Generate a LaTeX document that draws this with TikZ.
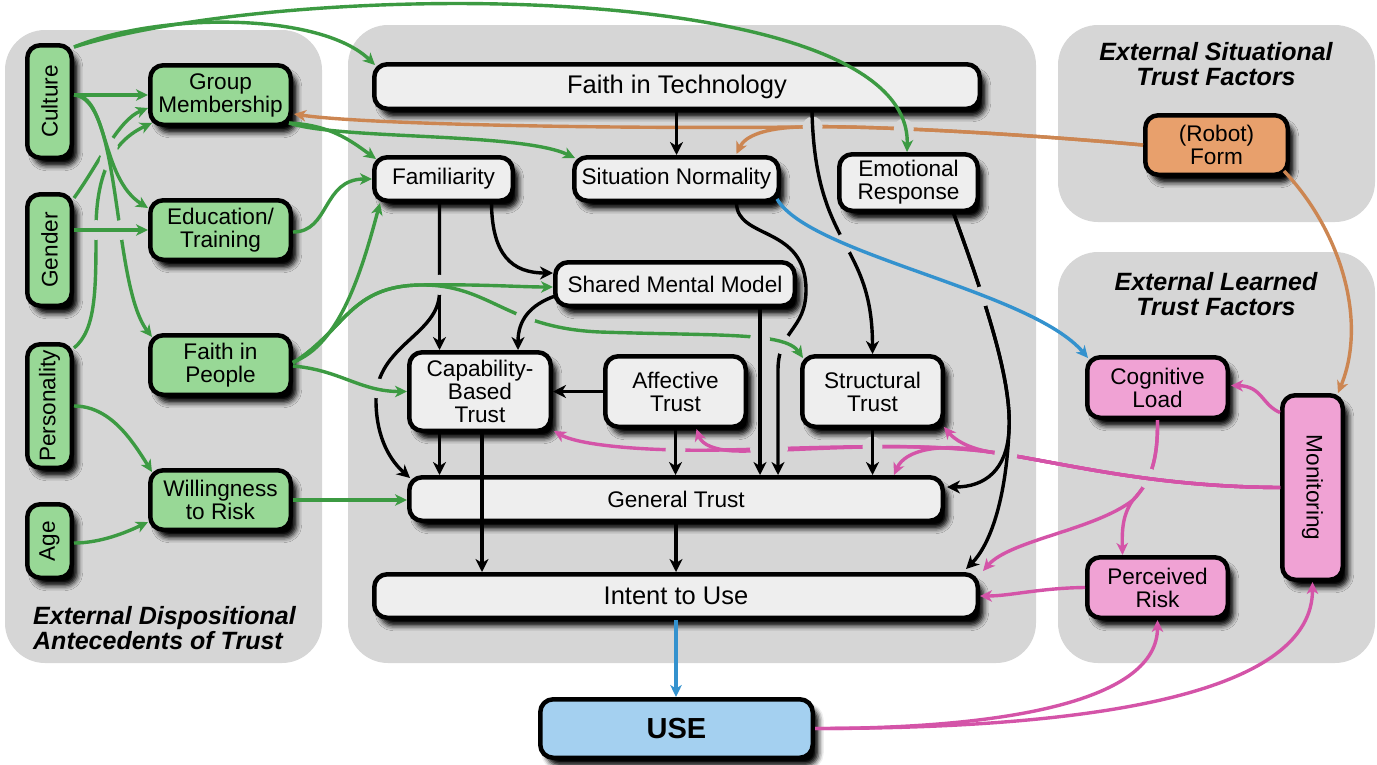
\documentclass[tikz,border=0pt]{standalone}
\usepackage{fontspec}
\setmainfont{Liberation Sans}
\usepackage{graphicx}
\usetikzlibrary{arrows.meta,calc,intersections,shadows.blur}

\definecolor{panelc}{RGB}{214,214,214}
\definecolor{nodeg}{RGB}{238,238,238}
\definecolor{gfill}{RGB}{152,216,150}
\definecolor{gline}{RGB}{60,154,66}
\definecolor{ofill}{RGB}{232,160,108}
\definecolor{oline}{RGB}{204,134,82}
\definecolor{pfill}{RGB}{240,162,212}
\definecolor{pline}{RGB}{212,84,168}
\definecolor{bfill}{RGB}{164,208,240}
\definecolor{bline}{RGB}{52,146,206}

\newcommand\mkgap[3][10]{%
  \path[name intersections={of=#2 and #3,total=\gapn}] \pgfextra{\xdef\gapN{\gapn}};%
  \ifnum\gapN>0 \foreach\gk in {1,...,\gapN}{\fill[panelc] (intersection-\gk) circle (#1pt);}\fi}

% ---------- connector paths ----------
\def\pCulFiT{($(cul.north east)+(0,4)$) .. controls (160,12) and (320,12) .. ($(fit.north west)+(3,3)$)}
\def\pCulER{($(cul.north east)+(0,4)$) .. controls (300,-22) and (912,-22) .. ($(er.north)+(-1.5,0)$)}
\def\pCulGM{($(cul.east)+(0,-6.5)$) -- (gm.west)}
\def\pCulEdu{($(cul.east)+(0,-6.5)$) .. controls (108,95) and (100,178) .. ($(edu.north west)+(0,10)$)}
\def\pCulFiP{($(cul.east)+(0,-6.5)$) .. controls (122,98) and (112,285) .. ($(fip.north west)+(4,4)$)}
\def\pGenGM{($(gen.north east)+(0,6)$) .. controls (98,165) and (118,120) .. ($(gm.west)+(0,13)$)}
\def\pPersGM{($(pers.north east)+(0,6)$) .. controls (96,330) and (96,290) .. (96,230) .. controls (96,170) and (115,140) .. ($(gm.south west)+(4,-4)$)}
\def\pGenEdu{($(gen.east)+(0,-20)$) -- (edu.west)}
\def\pPersWtR{(pers.east) .. controls (110,406) and (132,440) .. ($(wtr.north west)+(4,4)$)}
\def\pAgeWtR{($(age.east)+(0,2)$) .. controls (100,543) and (125,533) .. ($(wtr.west)+(0,22)$)}
\def\pGMFam{($(gm.south east)+(-4,-4)$) .. controls (330,125) and (350,140) .. ($(fam.north west)+(4,4)$)}
\def\pGMSN{($(gm.south east)+(-4,-4)$) .. controls (340,140) and (520,132) .. ($(sn.north west)+(3,3)$)}
\def\pEduFam{($(edu.east)+(0,2)$) .. controls (330,232) and (322,179) .. (fam.west)}
\def\pFiPFam{($(fip.east)+(0,-3)$) .. controls (340,345) and (362,270) .. ($(fam.south west)+(8,0)$)}
\def\pFiPSMM{($(fip.east)+(0,-2)$) .. controls (345,330) and (350,286) .. (420,285) .. controls (480,284) and (520,287) .. ($(smm.west)+(0,3)$)}
\def\pFiPST{($(fip.east)+(0,-2)$) .. controls (345,330) and (350,286) .. (420,285) .. controls (490,284) and (505,328) .. (600,332) .. controls (720,336) and (785,332) .. ($(st.north west)+(3,4)$)}
\def\pFiPCBT{($(fip.east)+(0,1)$) .. controls (340,370) and (360,391.5) .. (cbt.west)}
\def\pWtRGT{(wtr.east) -- (wtr.east -| gt.west)}
\def\pFiTSN{(fit.south -| sn.north) -- (sn.north)}
\def\pFiTST{($(fit.south)+(135,0)$) .. controls (815,250) and (872.5,240) .. (st.north)}
\def\pFamCBT{(famx) -- (famx |- cbt.north)}
\def\pFamGT{(famx) -- (439.5,292) .. controls (439.5,335) and (376,345) .. (376,400) .. controls (376,440) and (392,462) .. ($(gt.north west)+(3,3)$)}
\def\pFamSMM{($(fam.south)+(48,0)$) .. controls (492,255) and (512,273) .. ($(smm.west)+(0,-11)$)}
\def\pSMMCBT{($(smm.west)+(2,12)$) .. controls (530,305) and (518,320) .. ($(cbt.north)+(38,0)$)}
\def\pSMMGT{(smmx) -- (smmx |- gt.north)}
\def\pSNGT{(snx) .. controls (737,240) and (806,225) .. (806,290) .. controls (806,330) and (778,330) .. (778,370) -- (gtx)}
\def\pAffGT{(aff.south) -- (aff.south |- gt.north)}
\def\pSTGT{(st.south) -- (st.south |- gt.north)}
\def\pCBTGT{(famx |- cbt.south) -- (famx |- gt.north)}
\def\pCBTIU{(cbx) -- (cbx |- iu.north)}
\def\pAffCBT{(aff.west) -- (cbt.east)}
\def\pGTIU{(gt.south) -- (gt.south |- iu.north)}
\def\pERGT{(erx) .. controls (985,300) and (1012,380) .. (1009,430) .. controls (1007,470) and (985,487) .. ($(gt.east)+(2,-12)$)}
\def\pERIU{(erx) .. controls (985,300) and (1012,380) .. (1009,430) .. controls (1006,500) and (990,545) .. ($(iu.north east)+(-14,-3)$)}
\def\pSNCL{($(sn.south east)+(-4,-4)$) .. controls (810,255) and (1030,290) .. ($(cl.north west)+(3,3)$)}
\def\pIUUSE{(iu.south) -- (iu.south |- use.north)}
\def\pFormGM{(form.west) .. controls (1000,132) and (850,125) .. (800,127) .. controls (600,129) and (360,124) .. ($(gm.east)+(1,19)$)}
\def\pFormSN{(form.west) .. controls (1000,132) and (850,125) .. (800,127) .. controls (765,128) and (745,136) .. ($(sn.north)+(60,-1)$)}
\def\pFormMon{($(form.south east)+(-6,-6)$) .. controls (1340,230) and (1368,320) .. ($(mon.north east)+(-7,0)$)}
\def\pMonCL{($(mon.west)+(0,-75)$) .. controls (1262,405) and (1262,386) .. ($(cl.east)+(1,-2)$)}
\def\pMonCBT{(mon.west) .. controls (1150,487) and (1060,462) .. (990,452) .. controls (900,440) and (750,452) .. (680,450) .. controls (620,449) and (575,443) .. ($(cbt.south east)+(1,-2)$)}
\def\pMonAff{(mon.west) .. controls (1150,487) and (1060,462) .. (990,452) .. controls (900,440) and (790,452) .. (735,451) .. controls (715,450) and (702,445) .. ($(aff.south)+(21,0)$)}
\def\pMonST{(mon.west) .. controls (1150,487) and (1060,462) .. (990,452) .. controls (968,448) and (955,440) .. ($(st.south east)+(-1,-2)$)}
\def\pMonGT{(mon.west) .. controls (1150,487) and (1060,462) .. (990,452) .. controls (940,442) and (905,450) .. ($(gt.north)+(218,0)$)}
\def\pCLPR{(cl.south) .. controls (1158,462) and (1150,482) .. (1133,500) .. controls (1122,515) and (1122,532) .. ($(pr.north)+(-35,0)$)}
\def\pCLIU{(cl.south) .. controls (1158,462) and (1150,482) .. (1133,500) .. controls (1095,530) and (1010,540) .. ($(iu.north east)+(3,-1)$)}
\def\pPRIU{(pr.west) .. controls (1040,588) and (1010,596) .. (iu.east)}
\def\pUSEPR{(use.east) .. controls (1010,728.5) and (1157.5,700) .. (pr.south)}
\def\pUSEMon{(use.east) .. controls (1110,728.5) and (1312.5,690) .. (mon.south)}

\begin{document}
\begin{tikzpicture}[x=1pt,y=-1pt,line join=round,
  box/.style={draw=black, line width=4.5pt, rounded corners=13pt, inner sep=0pt, align=center,
    font=\fontsize{22.6}{23}\selectfont,
    blur shadow={shadow xshift=6pt, shadow yshift=-8pt, shadow blur radius=5pt, shadow opacity=100}},
  gbox/.style={box, fill=gfill},
  wbox/.style={box, fill=nodeg},
  obox/.style={box, fill=ofill},
  pbox/.style={box, fill=pfill},
  ubox/.style={box, fill=bfill},
  bigtxt/.style={font=\fontsize{25.5}{26}\selectfont},
  ttl/.style={inner sep=0pt, font=\fontsize{25}{24.5}\selectfont\bfseries\itshape},
  tip/.style={-{Stealth[length=13pt,width=13pt,inset=4pt]}},
  ctip/.style={-{Stealth[length=12pt,width=11.5pt,inset=3.5pt]}},
  kedge/.style={line width=3.4pt, draw=black, tip},
  gedge/.style={line width=3.4pt, draw=gline, ctip},
  oedge/.style={line width=3.4pt, draw=oline, ctip},
  pedge/.style={line width=3.4pt, draw=pline, ctip},
  bedge/.style={line width=3.4pt, draw=bline, ctip}]
\useasboundingbox (0,0) rectangle (1377,764);

% panels
\fill[panelc, rounded corners=40pt] (5,30) rectangle (322,663);
\fill[panelc, rounded corners=40pt] (348,25) rectangle (1036,663);
\fill[panelc, rounded corners=40pt] (1058,25) rectangle (1375,222);
\fill[panelc, rounded corners=40pt] (1058,252) rectangle (1375,663);

% titles
\node[ttl, align=left, anchor=west] (t1) at (33,628) {External Dispositional\\Antecedents of Trust};
\node[ttl, align=center] (t2) at (1216,64) {External Situational\\Trust Factors};
\node[ttl, align=center] (t3) at (1216,294) {External Learned\\Trust Factors};

% nodes
\node[gbox, minimum width=44.5pt, minimum height=112.5pt] (cul) at (49.5,101.5) {\rotatebox{90}{Culture}};
\node[gbox, minimum width=44.5pt, minimum height=111.5pt] (gen) at (49.5,250) {\rotatebox{90}{Gender}};
\node[gbox, minimum width=44.5pt, minimum height=123.5pt] (pers) at (49.5,406) {\rotatebox{90}{Personality}};
\node[gbox, minimum width=44.5pt, minimum height=73.5pt] (age) at (49.5,541) {\rotatebox{90}{Age}};
\node[gbox, minimum width=140.5pt, minimum height=59.5pt] (gm) at (220.5,95) {Group\\Membership};
\node[gbox, minimum width=140.5pt, minimum height=59.5pt] (edu) at (220.5,230) {Education/\\Training};
\node[gbox, minimum width=140.5pt, minimum height=59.5pt] (fip) at (220.5,365) {Faith in\\People};
\node[gbox, minimum width=140.5pt, minimum height=59.5pt] (wtr) at (220.5,500) {Willingness\\to Risk};

\node[wbox, bigtxt, minimum width=605.5pt, minimum height=44.5pt] (fit) at (677,86.5) {Faith in Technology};
\node[wbox, minimum width=138.5pt, minimum height=43.5pt] (fam) at (443.5,179) {Familiarity};
\node[wbox, minimum width=204.5pt, minimum height=43.5pt] (sn) at (676.5,179) {Situation Normality};
\node[wbox, minimum width=138.5pt, minimum height=56.5pt] (er) at (908.5,182.5) {Emotional\\Response};
\node[wbox, minimum width=239.5pt, minimum height=43.5pt] (smm) at (675,284) {Shared Mental Model};
\node[wbox, minimum width=141.5pt, minimum height=78.5pt] (cbt) at (480,391.5) {Capability-\\Based\\Trust};
\node[wbox, minimum width=140.5pt, minimum height=70.5pt] (aff) at (675.5,391.5) {Affective\\Trust};
\node[wbox, minimum width=140.5pt, minimum height=70.5pt] (st) at (872.5,391.5) {Structural\\Trust};
\node[wbox, minimum width=533.5pt, minimum height=43.5pt] (gt) at (676,499) {General Trust};
\node[wbox, bigtxt, minimum width=603.5pt, minimum height=43.5pt] (iu) at (676,596) {Intent to Use};
\node[ubox, font=\fontsize{29}{30}\selectfont\bfseries, minimum width=272.5pt, minimum height=58.5pt] (use) at (676.5,728.5) {USE};

\node[obox, minimum width=142.5pt, minimum height=59.5pt] (form) at (1216.5,145) {(Robot)\\Form};
\node[pbox, minimum width=140.5pt, minimum height=60.5pt] (cl) at (1157.5,387.5) {Cognitive\\Load};
\node[pbox, minimum width=140.5pt, minimum height=60.5pt] (pr) at (1157.5,587.5) {Perceived\\Risk};
\node[pbox, minimum width=60.5pt, minimum height=184.5pt] (mon) at (1312.5,487.5) {\rotatebox{-90}{Monitoring}};

% helper coordinates
\coordinate (famx) at ($(fam.south)+(-4,0)$);
\coordinate (cbx) at ($(cbt.south)+(2,0)$);
\coordinate (smmx) at ($(smm.south)+(85,0)$);
\coordinate (snx) at ($(sn.south)+(60,0)$);
\coordinate (gtx) at ($(gt.north)+(102,0)$);
\coordinate (erx) at ($(er.south)+(45,0)$);

% named (invisible) paths for crossings
\path[name path=culedu] \pCulEdu;
\path[name path=culfip] \pCulFiP;
\path[name path=gengm] \pGenGM;
\path[name path=persgm] \pPersGM;
\path[name path=genedu] \pGenEdu;
\path[name path=fipsmm] \pFiPSMM;
\path[name path=fipst] \pFiPST;
\path[name path=fipcbt] \pFiPCBT;
\path[name path=famcbt] \pFamCBT;
\path[name path=famgt] \pFamGT;
\path[name path=sngt] \pSNGT;
\path[name path=smmcbt] \pSMMCBT;
\path[name path=smmgt] \pSMMGT;
\path[name path=fitst] \pFiTST;
\path[name path=sncl] \pSNCL;
\path[name path=ergt] \pERGT;
\path[name path=eriu] \pERIU;
\path[name path=moncbt] \pMonCBT;
\path[name path=clpr] \pCLPR;
\path[name path=cliu] \pCLIU;
\path[name path=affgt] \pAffGT;
\path[name path=stgt] \pSTGT;
\path[name path=formgm] \pFormGM;
\path[name path=culer] \pCulER;

% orange
\draw[oedge] \pFormGM;
\draw[oedge] \pFormSN;

% pink
\draw[pedge] \pCLPR;
\draw[pedge] \pCLIU;
\draw[pedge] \pPRIU;
\draw[pedge] \pUSEPR;
\draw[pedge] \pUSEMon;
\draw[pedge] \pMonCL;
\mkgap{clpr}{moncbt}
\mkgap{cliu}{moncbt}
\draw[pedge] \pMonCBT;
\draw[pedge] \pMonAff;
\draw[pedge] \pMonST;
\draw[pedge] \pMonGT;

\mkgap{moncbt}{affgt}
\mkgap{moncbt}{smmgt}
\mkgap{moncbt}{sngt}
\mkgap{moncbt}{stgt}
\mkgap{moncbt}{ergt}
\mkgap{moncbt}{eriu}
\mkgap{formgm}{fitst}
\mkgap{formgm}{culer}

% black
\draw[kedge] \pFiTSN;
\draw[kedge] \pFiTST;
\draw[kedge] \pFamCBT;
\draw[kedge] \pFamGT;
\draw[kedge] \pFamSMM;
\draw[kedge] \pSNGT;
\draw[kedge] \pAffGT;
\draw[kedge] \pSTGT;
\draw[kedge] \pERGT;
\draw[kedge] \pERIU;
\draw[kedge] \pCBTGT;
\draw[kedge] \pCBTIU;
\draw[kedge] \pAffCBT;
\draw[kedge] \pGTIU;

\mkgap{famcbt}{fipsmm}
\mkgap{famgt}{fipsmm}
\mkgap{famgt}{fipcbt}
\mkgap{sngt}{fipst}
\mkgap{fitst}{sncl}
\mkgap{ergt}{sncl}
\mkgap{eriu}{sncl}

% green & blue over
\draw[gedge] \pFiPST;
\draw[gedge] \pFiPSMM;
\draw[gedge] \pFiPCBT;
\draw[gedge] \pFiPFam;
\draw[gedge] \pEduFam;
\draw[gedge] \pGMFam;
\draw[gedge] \pGMSN;
\draw[gedge] \pWtRGT;
\draw[gedge] \pCulFiT;
\draw[gedge] \pCulER;
\draw[bedge] \pSNCL;
\draw[bedge] \pIUUSE;

\mkgap{fipst}{smmcbt}
\mkgap{fipst}{smmgt}
\draw[kedge] \pSMMCBT;
\draw[kedge] \pSMMGT;

% left panel
\draw[gedge] \pGenGM;
\draw[gedge] \pPersGM;
\mkgap{gengm}{culedu}
\mkgap{gengm}{culfip}
\mkgap{persgm}{culedu}
\mkgap{persgm}{culfip}
\draw[gedge] \pCulEdu;
\draw[gedge] \pCulFiP;
\mkgap{persgm}{genedu}
\mkgap{culfip}{genedu}
\draw[gedge] \pGenEdu;
\draw[gedge] \pCulGM;
\draw[gedge] \pPersWtR;
\draw[gedge] \pAgeWtR;

\draw[oedge] \pFormMon;
\end{tikzpicture}
\end{document}
